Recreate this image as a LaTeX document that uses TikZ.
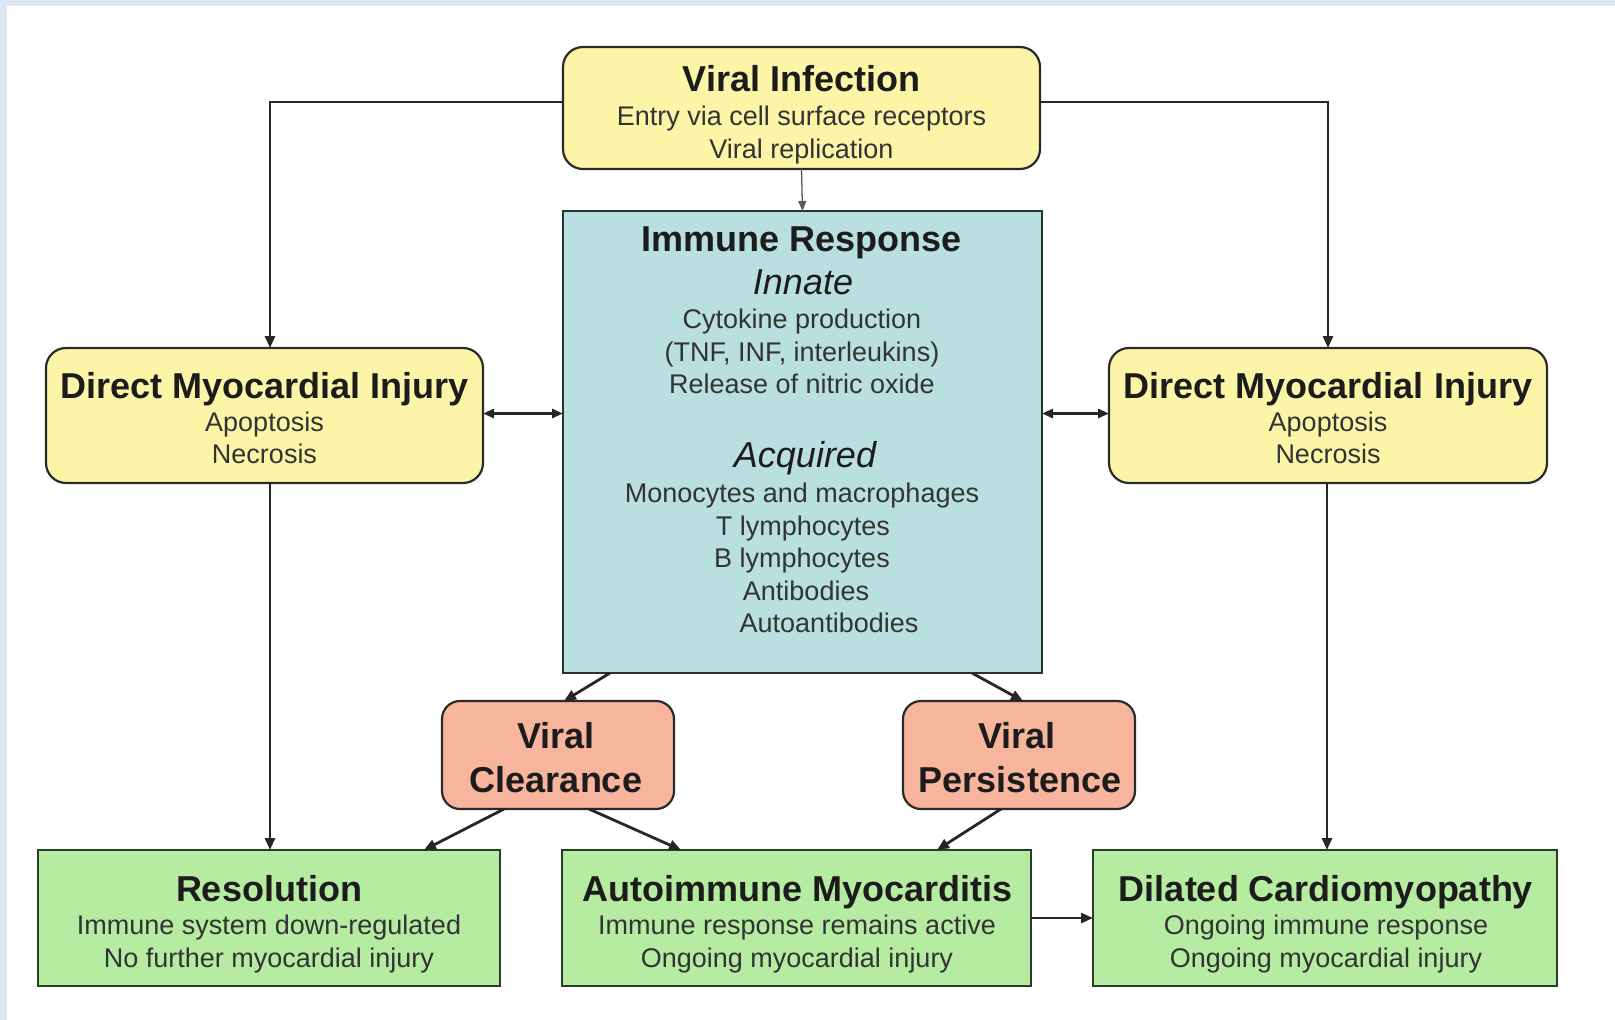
\documentclass[tikz,border=0pt]{standalone}
\usepackage{fontspec}
\setmainfont{Liberation Sans}
\usetikzlibrary{arrows.meta,calc}
\definecolor{framec}{HTML}{DCE6F0}
\definecolor{yel}{HTML}{FCF5A8}
\definecolor{irfill}{HTML}{B9DFE1}
\definecolor{salm}{HTML}{F6B59C}
\definecolor{grn}{HTML}{B6ECA2}
\definecolor{edgec}{HTML}{2A2A2A}
\definecolor{txt}{HTML}{1C1C1C}
\begin{document}
\begin{tikzpicture}[x=1pt,y=-1pt,
  box/.style={draw=edgec, line width=2.2pt, inner sep=0pt, outer sep=0pt},
  ybox/.style={box, fill=yel, rounded corners=20pt},
  ibox/.style={box, draw=edgec!90!teal, fill=irfill},
  sbox/.style={box, fill=salm, rounded corners=18pt},
  gbox/.style={box, line width=2.6pt, draw=edgec!90!green, fill=grn},
  ttl/.style={inner sep=0pt, text=txt, font=\fontsize{36}{40}\selectfont\bfseries, text height=26pt, text depth=0pt},
  ita/.style={inner sep=0pt, text=txt, font=\fontsize{36}{40}\selectfont\itshape, text height=26pt, text depth=0pt},
  bod/.style={inner sep=0pt, text=txt!90, font=\fontsize{27}{30}\selectfont, text height=19.5pt, text depth=0pt},
  arr/.style={line width=2.8pt, draw=black!85, -{Triangle[length=12pt,width=10pt]}},
  darr/.style={line width=2.8pt, draw=black!85, {Triangle[length=11pt,width=9pt]}-{Triangle[length=11pt,width=9pt]}},
  thin/.style={line width=1.3pt, draw=black!65, -{Triangle[length=10pt,width=8pt]}}
]
\useasboundingbox (0,0) rectangle (1615,1020);
\fill[framec] (0,0) rectangle (1615,1020);
\fill[white] (7,6) rectangle (1615,1020);

% boxes
\node[ybox, minimum width=477pt, minimum height=122pt] (vi) at (801.5,108) {};
\node[ibox, minimum width=479pt, minimum height=462pt] (ir) at (802.5,442) {};
\node[ybox, minimum width=437pt, minimum height=135pt] (ldmi) at (264.5,415.5) {};
\node[ybox, minimum width=438pt, minimum height=135pt] (rdmi) at (1328,415.5) {};
\node[sbox, minimum width=232pt, minimum height=108pt] (vc) at (558,755) {};
\node[sbox, minimum width=232pt, minimum height=108pt] (vp) at (1019,755) {};
\node[gbox, minimum width=462pt, minimum height=136pt] (res) at (269,918) {};
\node[gbox, minimum width=469pt, minimum height=136pt] (auto) at (796.5,918) {};
\node[gbox, minimum width=464pt, minimum height=136pt] (dcm) at (1325,918) {};

% texts
\node[ttl] (vit) at (801.5,78) {Viral Infection};
\node[bod] (vi1) at (801.5,116) {Entry via cell surface receptors};
\node[bod] (vi2) at (801.5,149) {Viral replication};

\node[ttl] (irt) at (802,238) {Immune Response};
\node[ita] (ir1) at (803,281) {Innate};
\node[bod] (ir2) at (802,319) {Cytokine production};
\node[bod] (ir3) at (802,352) {(TNF, INF, interleukins)};
\node[bod] (ir4) at (802,384) {Release of nitric oxide};
\node[ita] (ir5) at (805,454) {Acquired};
\node[bod] (ir6) at (802,493) {Monocytes and macrophages};
\node[bod] (ir7) at (803,526) {T lymphocytes};
\node[bod] (ir8) at (802,558) {B lymphocytes};
\node[bod] (ir9) at (806,591) {Antibodies};
\node[bod] (ir10) at (829,623) {Autoantibodies};

\node[ttl] (ldt) at (264.5,385) {Direct Myocardial Injury};
\node[bod] (ld1) at (264.5,422) {Apoptosis};
\node[bod] (ld2) at (264.5,454) {Necrosis};

\node[ttl] (rdt) at (1328,385) {Direct Myocardial Injury};
\node[bod] (rd1) at (1328,422) {Apoptosis};
\node[bod] (rd2) at (1328,454) {Necrosis};

\node[ttl] (vct1) at (556,735) {Viral};
\node[ttl] (vct2) at (556,779) {Clearance};
\node[ttl] (vpt1) at (1017,735) {Viral};
\node[ttl] (vpt2) at (1020,779) {Persistence};

\node[ttl] (rest) at (269,888) {Resolution};
\node[bod] (res1) at (269,925) {Immune system down-regulated};
\node[bod] (res2) at (269,958) {No further myocardial injury};

\node[ttl] (autot) at (798,888) {Autoimmune Myocarditis};
\node[bod] (auto1) at (797,925) {Immune response remains active};
\node[bod] (auto2) at (797,958) {Ongoing myocardial injury};

\node[ttl] (dcmt) at (1326,888) {Dilated Cardiomyopathy};
\node[bod] (dcm1) at (1326,925) {Ongoing immune response};
\node[bod] (dcm2) at (1326,958) {Ongoing myocardial injury};

% connectors
\draw[arr] ([yshift=6pt]vi.west) -| ([xshift=5.5pt]ldmi.north);
\draw[arr] ([yshift=6pt]vi.east) -| (rdmi.north);
\draw[thin] (vi.south) -- (ir.north);
\draw[darr] ([yshift=2pt]ldmi.east) -- ([yshift=2pt]ldmi.east -| ir.west);
\draw[darr] ([yshift=2pt]rdmi.west -| ir.east) -- ([yshift=2pt]rdmi.west);
\draw[arr] ($(ir.south west)+(47,0)$) -- ($(vc.north)+(6,0)$);
\draw[arr] ($(ir.south east)+(-70,0)$) -- ($(vp.north)+(4,0)$);
\draw[arr] ($(vc.south west)+(62,0)$) -- ($(res.north east)+(-76,0)$);
\draw[arr] ($(vc.south west)+(147,0)$) -- ($(auto.north west)+(119,0)$);
\draw[arr] ($(vp.south west)+(98,0)$) -- ($(auto.north east)+(-94,0)$);
\draw[arr] ([xshift=5.5pt]ldmi.south) -- ([xshift=5.5pt]ldmi.south |- res.north);
\draw[arr] ([xshift=-1pt]rdmi.south) -- ([xshift=-1pt]rdmi.south |- dcm.north);
\draw[arr] (auto.east) -- (dcm.west);
\end{tikzpicture}
\end{document}
